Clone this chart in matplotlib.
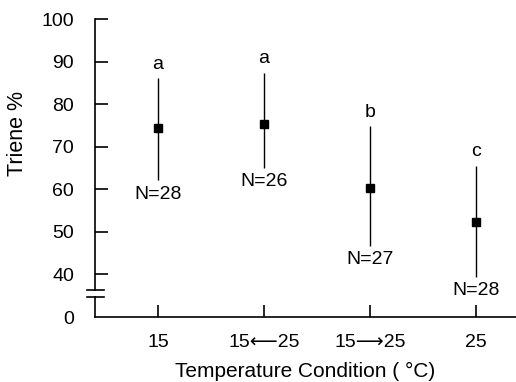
import matplotlib
matplotlib.use('Agg')
import matplotlib.pyplot as plt

plt.rcParams['font.family'] = ['Liberation Sans', 'DejaVu Sans']

conditions = ['15', '15\u27f525', '15\u27f625', '25']
means = [74.4, 75.4, 60.3, 52.3]
err_top = [86.1, 87.4, 74.8, 65.5]
err_bottom = [62.1, 65.0, 46.7, 39.4]
letters = ['a', 'a', 'b', 'c']
n_labels = ['N=28', 'N=26', 'N=27', 'N=28']

x = list(range(1, len(conditions) + 1))
W, H = 516, 382
fig = plt.figure(figsize=(W / 100, H / 100), dpi=100)

left = 95 / W
ax = fig.add_axes([left, 1 - 290 / H, 1.0 - left, (290 - 19) / H])
axb = fig.add_axes([left, 1 - 317 / H, 1.0 - left, 20 / H], sharex=ax)

lo = [m - b for m, b in zip(means, err_bottom)]
hi = [t - m for m, t in zip(means, err_top)]
ax.errorbar(x, means, yerr=[lo, hi], fmt='s', color='black', ms=6,
            elinewidth=1.0, capsize=0)

fs = 14
for xi, t, b, let, n in zip(x, err_top, err_bottom, letters, n_labels):
    ax.annotate(let, (xi, t), xytext=(0, 4), textcoords='offset points',
                ha='center', va='bottom', fontsize=fs)
    ax.annotate(n, (xi, b), xytext=(0, -4), textcoords='offset points',
                ha='center', va='top', fontsize=fs)

ax.set_ylim(36.3, 100)
ax.set_yticks([40, 50, 60, 70, 80, 90, 100])
ax.set_xlim(0.406, 4.38)
for s in ['top', 'right', 'bottom']:
    ax.spines[s].set_visible(False)
ax.spines['left'].set_linewidth(1.2)
ax.tick_params(axis='y', direction='in', length=9, width=1.2, labelsize=fs, pad=15)
ax.tick_params(axis='x', bottom=False, labelbottom=False)
ax.set_ylabel('Triene %', fontsize=15.5)
ax.yaxis.set_label_coords(-0.158, 0.579)

axb.set_ylim(0, 1)
axb.set_yticks([0])
for s in ['top', 'right']:
    axb.spines[s].set_visible(False)
axb.spines['left'].set_linewidth(1.2)
axb.spines['bottom'].set_linewidth(1.2)
axb.tick_params(axis='y', length=0, labelsize=fs, pad=15)
axb.set_xticks(x)
axb.set_xticklabels(conditions)
axb.tick_params(axis='x', direction='in', length=9, width=1.2, labelsize=fs, pad=12)
axb.set_xlabel('Temperature Condition ( \u00b0C)', fontsize=15, labelpad=8)

hw = 8.5 / (W - 95)
ax.plot([-hw, hw], [0, 0], transform=ax.transAxes, color='black', lw=1.2, clip_on=False)
axb.plot([-hw, hw], [1, 1], transform=axb.transAxes, color='black', lw=1.2, clip_on=False)

fig.savefig('out.png', dpi=100)
